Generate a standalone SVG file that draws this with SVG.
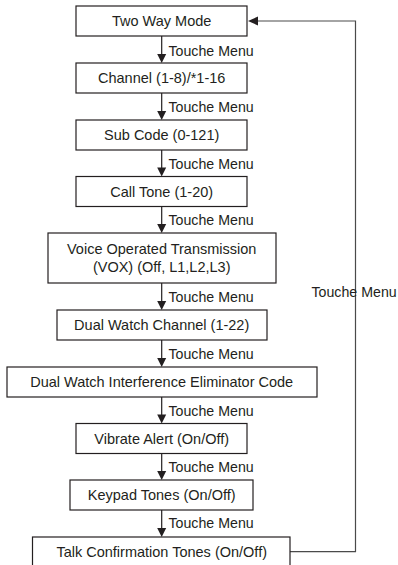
<svg xmlns="http://www.w3.org/2000/svg" width="398" height="565" viewBox="0 0 398 565">
<style>
.box{fill:#fff;stroke:#231f20;stroke-width:1.2}
.t{font-family:"Liberation Sans",Arial,sans-serif;font-size:14.5px;fill:#231f20;text-anchor:middle}
.l{font-family:"Liberation Sans",Arial,sans-serif;font-size:14.2px;fill:#231f20}
.c{fill:none;stroke:#231f20;stroke-width:1.2}
.loop{fill:none;stroke:#4a4a4a;stroke-width:1.2}
.ah{fill:#231f20}
</style>
<rect width="398" height="565" fill="#fff"/>
<g id="connectors">
<line class="c" x1="161.7" y1="36" x2="161.7" y2="55"/><polygon class="ah" points="157.2,54 166.2,54 161.7,63"/>
<line class="c" x1="161.7" y1="93" x2="161.7" y2="112"/><polygon class="ah" points="157.2,111 166.2,111 161.7,120"/>
<line class="c" x1="161.7" y1="150" x2="161.7" y2="168"/><polygon class="ah" points="157.2,167.5 166.2,167.5 161.7,176.5"/>
<line class="c" x1="161.7" y1="206.5" x2="161.7" y2="225"/><polygon class="ah" points="157.2,224 166.2,224 161.7,233"/>
<line class="c" x1="161.7" y1="283" x2="161.7" y2="302"/><polygon class="ah" points="157.2,301 166.2,301 161.7,310"/>
<line class="c" x1="161.7" y1="340" x2="161.7" y2="359"/><polygon class="ah" points="157.2,358 166.2,358 161.7,367"/>
<line class="c" x1="161.7" y1="397" x2="161.7" y2="415"/><polygon class="ah" points="157.2,414.5 166.2,414.5 161.7,423.5"/>
<line class="c" x1="161.7" y1="453.5" x2="161.7" y2="472"/><polygon class="ah" points="157.2,471 166.2,471 161.7,480"/>
<line class="c" x1="161.7" y1="510" x2="161.7" y2="529"/><polygon class="ah" points="157.2,528 166.2,528 161.7,537"/>
<polyline class="loop" points="290,551.7 355.5,551.7 355.5,21 257,21"/>
<polygon class="ah" points="248,21 258,16.5 258,25.5"/>
<text class="l" x="168.5" y="55.5">Touche Menu</text>
<text class="l" x="168.5" y="112">Touche Menu</text>
<text class="l" x="168.5" y="168.5">Touche Menu</text>
<text class="l" x="168.5" y="225">Touche Menu</text>
<text class="l" x="168.5" y="301.5">Touche Menu</text>
<text class="l" x="168.5" y="358.5">Touche Menu</text>
<text class="l" x="168.5" y="415.5">Touche Menu</text>
<text class="l" x="168.5" y="472">Touche Menu</text>
<text class="l" x="168.5" y="527.5">Touche Menu</text>
<text class="l" x="311.5" y="296.5">Touche Menu</text>
</g>
<g id="n1"><rect class="box" x="76" y="6" width="171" height="30"/><text class="t" x="161.7" y="26">Two Way Mode</text></g>
<g id="n2"><rect class="box" x="76" y="63" width="171" height="30"/><text class="t" x="161.7" y="83">Channel (1-8)/*1-16</text></g>
<g id="n3"><rect class="box" x="76" y="120" width="171" height="30"/><text class="t" x="161.7" y="140">Sub Code (0-121)</text></g>
<g id="n4"><rect class="box" x="76" y="176.5" width="171" height="30"/><text class="t" x="161.7" y="196.5">Call Tone (1-20)</text></g>
<g id="n5"><rect class="box" x="48" y="233" width="228" height="50"/><text class="t" x="161.7" y="253.5">Voice Operated Transmission</text><text class="t" x="161.7" y="272">(VOX) (Off, L1,L2,L3)</text></g>
<g id="n6"><rect class="box" x="57" y="310" width="210" height="30"/><text class="t" x="161.7" y="330">Dual Watch Channel (1-22)</text></g>
<g id="n7"><rect class="box" x="7" y="367" width="310" height="30"/><text class="t" x="161.7" y="387">Dual Watch Interference Eliminator Code</text></g>
<g id="n8"><rect class="box" x="76" y="423.5" width="171" height="30"/><text class="t" x="161.7" y="443.5">Vibrate Alert (On/Off)</text></g>
<g id="n9"><rect class="box" x="70" y="480" width="183" height="30"/><text class="t" x="161.7" y="500">Keypad Tones (On/Off)</text></g>
<g id="n10"><rect class="box" x="32.5" y="537" width="257.5" height="40"/><text class="t" x="161.7" y="557">Talk Confirmation Tones (On/Off)</text></g>
</svg>
